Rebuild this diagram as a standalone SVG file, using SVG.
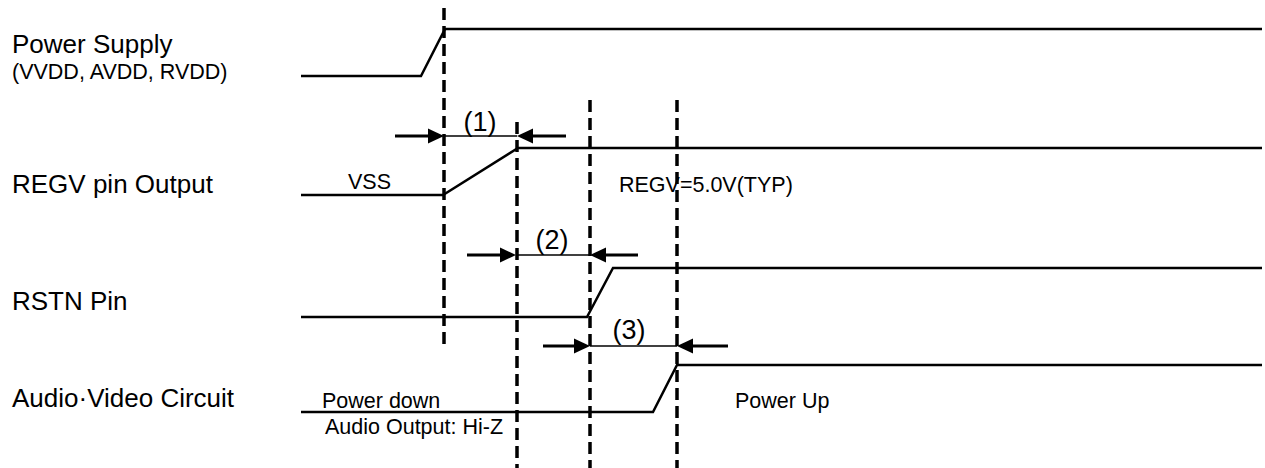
<svg xmlns="http://www.w3.org/2000/svg" width="1265" height="468" viewBox="0 0 1265 468">
<style>
.sig{fill:none;stroke:#000;stroke-width:2.5;stroke-linejoin:miter}
.dash{fill:none;stroke:#000;stroke-width:3.5;stroke-dasharray:12 6}
.shaft{stroke:#000;stroke-width:3;fill:none}
.mid{stroke:#000;stroke-width:1.5;fill:none}
.head{fill:#000}
.lbl{font-family:"Liberation Sans",Arial,sans-serif;font-size:26px;fill:#000}
.sm{font-family:"Liberation Sans",Arial,sans-serif;font-size:21.5px;fill:#000}
.num{font-family:"Liberation Sans",Arial,sans-serif;font-size:27px;fill:#000;text-anchor:middle}
</style>
<rect width="1265" height="468" fill="#fff"/>
<g id="labels">
<text class="lbl" x="12" y="53">Power Supply</text>
<text class="sm" x="12" y="79">(VVDD, AVDD, RVDD)</text>
<text class="lbl" x="12" y="193">REGV pin Output</text>
<text class="lbl" x="12" y="310">RSTN Pin</text>
<text class="lbl" x="12" y="407">Audio·Video Circuit</text>
</g>
<g id="power-supply">
<polyline class="sig" points="301,76 421,76 445,29 1262,29"/>
</g>
<g id="regv">
<polyline class="sig" points="301,195 443,195 518,148 1262,148"/>
<text class="sm" x="348" y="189">VSS</text>
<text class="sm" x="619" y="192">REGV=5.0V(TYP)</text>
</g>
<g id="rstn">
<polyline class="sig" points="301,317 587,317 613,268 1262,268"/>
</g>
<g id="audio-video">
<polyline class="sig" points="301,412 653,412 677,365 1262,365"/>
<text class="sm" x="322" y="408">Power down</text>
<text class="sm" x="325" y="434">Audio Output: Hi-Z</text>
<text class="sm" x="735" y="408">Power Up</text>
</g>
<g id="connectors">
<line class="dash" x1="444" y1="8" x2="444" y2="345"/>
<line class="dash" x1="517" y1="122" x2="517" y2="468"/>
<line class="dash" x1="590" y1="100" x2="590" y2="468"/>
<line class="dash" x1="677" y1="100" x2="677" y2="468"/>
<g id="t1">
<line class="shaft" x1="395" y1="136" x2="430" y2="136"/>
<polygon class="head" points="444,136 428,128.5 428,143.5"/>
<line class="mid" x1="444" y1="136" x2="517" y2="136"/>
<polygon class="head" points="517,136 533,128.5 533,143.5"/>
<line class="shaft" x1="531" y1="136" x2="566" y2="136"/>
<text class="num" x="480" y="131">(1)</text>
</g>
<g id="t2">
<line class="shaft" x1="467" y1="255" x2="502" y2="255"/>
<polygon class="head" points="516,255 500,247.5 500,262.5"/>
<line class="mid" x1="516" y1="255" x2="590" y2="255"/>
<polygon class="head" points="590,255 606,247.5 606,262.5"/>
<line class="shaft" x1="604" y1="255" x2="638" y2="255"/>
<text class="num" x="552" y="249">(2)</text>
</g>
<g id="t3">
<line class="shaft" x1="543" y1="346" x2="576" y2="346"/>
<polygon class="head" points="590,346 574,338.5 574,353.5"/>
<line class="mid" x1="590" y1="346" x2="677" y2="346"/>
<polygon class="head" points="677,346 693,338.5 693,353.5"/>
<line class="shaft" x1="691" y1="346" x2="728" y2="346"/>
<text class="num" x="629" y="339">(3)</text>
</g>
</g>
</svg>
